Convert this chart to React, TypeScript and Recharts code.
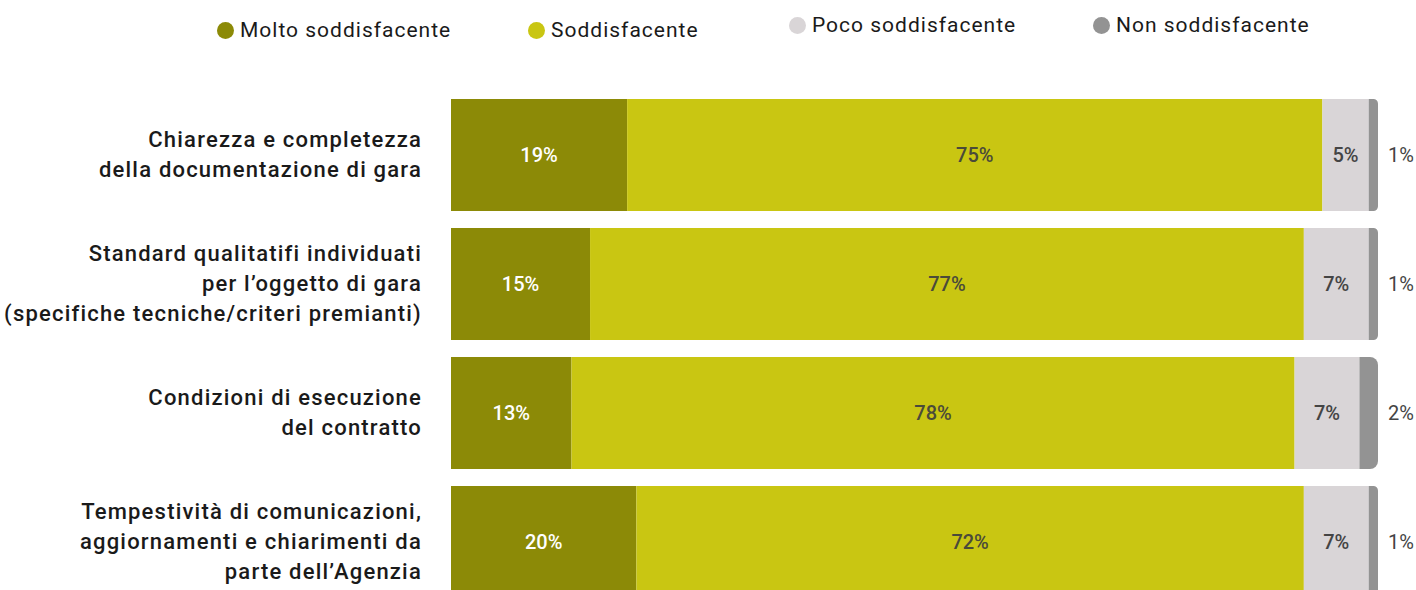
import React from "react";
import { BarChart, Bar, XAxis, YAxis, LabelList } from "recharts";

const CATEGORIES = [
  "Chiarezza e completezza\ndella documentazione di gara",
  "Standard qualitatifi individuati\nper l’oggetto di gara\n(specifiche tecniche/criteri premianti)",
  "Condizioni di esecuzione\ndel contratto",
  "Tempestività di comunicazioni,\naggiornamenti e chiarimenti da\nparte dell’Agenzia",
];

const MOLTO = [19, 15, 13, 20];
const SODDISFACENTE = [75, 77, 78, 72];
const POCO = [5, 7, 7, 7];
const NON = [1, 1, 2, 1];

const SERIES = [
  { key: "molto", name: "Molto soddisfacente", color: "#8c8a07" },
  { key: "sodd", name: "Soddisfacente", color: "#c9c612" },
  { key: "poco", name: "Poco soddisfacente", color: "#d9d5d7" },
  { key: "non", name: "Non soddisfacente", color: "#939393" },
];

const data = CATEGORIES.map((name, i) => ({
  name,
  molto: MOLTO[i],
  sodd: SODDISFACENTE[i],
  poco: POCO[i],
  non: NON[i],
}));

const FONT = "Roboto, 'Open Sans', sans-serif";

// legend item placement (left edge of the dot, vertical centre)
const LEGEND_POS = [
  { left: 217, top: 30 },
  { left: 528, top: 30 },
  { left: 789, top: 25 },
  { left: 1093, top: 25 },
];

const CategoryTick = ({ x, y, payload }: any) => {
  const lines = String(payload.value).split("\n");
  const lh = 30;
  const start = -((lines.length - 1) / 2) * lh;
  return (
    <text
      x={x}
      y={y}
      textAnchor="end"
      fill="#1a1a1a"
      fontFamily={FONT}
      fontSize={22}
      fontWeight={500}
      letterSpacing={1.2}
    >
      {lines.map((l, i) => (
        <tspan key={i} x={x} dy={i === 0 ? start + 7 : lh}>
          {l}
        </tspan>
      ))}
    </text>
  );
};

const pct = (v: any) => `${v}%`;

export default function App() {
  return (
    <div
      style={{
        position: "absolute",
        left: 0,
        top: 0,
        width: 1416,
        height: 590,
        overflow: "hidden",
        background: "#fff",
        fontFamily: FONT,
      }}
    >
      {SERIES.map((s, i) => (
        <div
          key={s.key}
          style={{
            position: "absolute",
            left: LEGEND_POS[i].left,
            top: LEGEND_POS[i].top - 12,
            height: 24,
            display: "flex",
            alignItems: "center",
            fontSize: 21,
            letterSpacing: 1,
            color: "#1a1a1a",
            whiteSpace: "nowrap",
          }}
        >
          <span
            style={{
              display: "inline-block",
              width: 17,
              height: 17,
              borderRadius: "50%",
              background: s.color,
              marginRight: 6,
            }}
          />
          {s.name}
        </div>
      ))}
      <BarChart
        layout="vertical"
        width={1416}
        height={620}
        data={data}
        margin={{ top: 90, right: 38, bottom: 14, left: 0 }}
      >
        <XAxis type="number" domain={[0, 100]} hide />
        <YAxis
          type="category"
          dataKey="name"
          width={451}
          axisLine={false}
          tickLine={false}
          tickSize={0}
          tickMargin={29}
          tick={<CategoryTick />}
          interval={0}
        />
        <Bar dataKey="molto" stackId="a" fill="#8c8a07" barSize={112} isAnimationActive={false}>
          <LabelList dataKey="molto" position="center" formatter={pct} fill="#fff" fontSize={20} fontWeight={500} fontFamily={FONT} />
        </Bar>
        <Bar dataKey="sodd" stackId="a" fill="#c9c612" barSize={112} isAnimationActive={false}>
          <LabelList dataKey="sodd" position="center" formatter={pct} fill="#4a4a3a" fontSize={20} fontWeight={500} fontFamily={FONT} />
        </Bar>
        <Bar dataKey="poco" stackId="a" fill="#d9d5d7" barSize={112} isAnimationActive={false}>
          <LabelList dataKey="poco" position="center" formatter={pct} fill="#444" fontSize={20} fontWeight={500} fontFamily={FONT} />
        </Bar>
        <Bar dataKey="non" stackId="a" fill="#939393" barSize={112} radius={[0, 8, 8, 0]} isAnimationActive={false}>
          <LabelList dataKey="non" position="right" offset={10} formatter={pct} fill="#444" fontSize={20} fontFamily={FONT} />
        </Bar>
      </BarChart>
    </div>
  );
}
